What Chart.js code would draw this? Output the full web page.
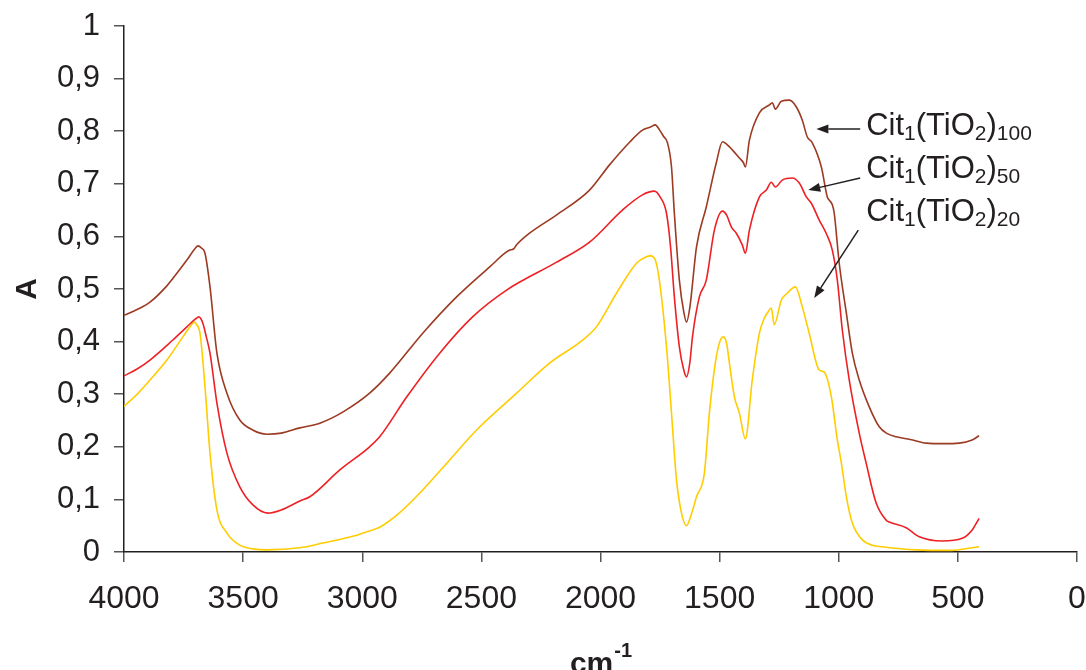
<!DOCTYPE html>
<html>
<head>
<meta charset="utf-8">
<script src="https://cdn.jsdelivr.net/npm/chart.js@4/dist/chart.umd.min.js"></script>
<style>
html,body{margin:0;padding:0;background:#fff;}
#wrap{width:1086px;height:670px;}
</style>
</head>
<body>
<div id="wrap"><canvas id="c" width="1086" height="670"></canvas></div>
<script>
// ---- Data (wavenumber cm-1, absorbance A) ----
const brownX = [4000,3945,3891,3820,3795,3736,3700,3690,3675,3660,3639,3610,3568,3514,3460,3400,3340,3262,3178,3082,2969,2885,2746,2604,2465,2381,2365,2352,2298,2184,2046,1962,1878,1824,1790,1770,1753,1735,1719,1702,1690,1669,1650,1639,1625,1597,1556,1514,1488,1470,1446,1417,1400,1392,1375,1333,1291,1279,1266,1241,1207,1178,1153,1132,1111,1073,1048,1040,1027,1019,998,968,943,914,872,830,800,759,700,633,560,495,440,411];
const brownY = [0.450,0.461,0.475,0.506,0.520,0.555,0.578,0.582,0.578,0.568,0.504,0.378,0.302,0.251,0.232,0.224,0.226,0.236,0.245,0.266,0.302,0.340,0.416,0.485,0.542,0.574,0.576,0.584,0.606,0.641,0.688,0.736,0.779,0.802,0.808,0.812,0.803,0.790,0.778,0.732,0.644,0.517,0.455,0.437,0.465,0.580,0.656,0.740,0.780,0.775,0.764,0.749,0.740,0.732,0.783,0.835,0.850,0.854,0.842,0.857,0.859,0.846,0.821,0.789,0.778,0.732,0.675,0.669,0.660,0.644,0.549,0.454,0.378,0.327,0.276,0.238,0.226,0.219,0.214,0.207,0.206,0.207,0.213,0.221];

const redX = [4000,3945,3891,3795,3736,3700,3686,3669,3655,3639,3610,3568,3514,3460,3396,3340,3262,3220,3094,2969,2927,2813,2675,2537,2394,2184,2046,1908,1824,1774,1750,1723,1706,1690,1669,1650,1639,1625,1614,1585,1556,1522,1488,1470,1451,1430,1405,1392,1375,1333,1304,1283,1266,1237,1195,1165,1136,1115,1082,1052,1027,1006,985,956,914,885,843,800,788,717,662,566,482,440,411];
const redY = [0.335,0.348,0.365,0.403,0.428,0.443,0.447,0.435,0.410,0.378,0.283,0.188,0.124,0.090,0.074,0.080,0.097,0.105,0.156,0.200,0.219,0.295,0.378,0.447,0.498,0.551,0.589,0.650,0.679,0.686,0.675,0.644,0.580,0.485,0.390,0.345,0.333,0.360,0.409,0.485,0.517,0.612,0.648,0.640,0.618,0.606,0.584,0.568,0.612,0.675,0.688,0.703,0.694,0.707,0.711,0.701,0.675,0.663,0.631,0.605,0.574,0.517,0.422,0.327,0.226,0.169,0.093,0.060,0.057,0.046,0.029,0.021,0.026,0.042,0.064];

const yellowX = [4000,3945,3891,3820,3753,3720,3706,3695,3681,3660,3639,3610,3568,3514,3460,3400,3262,3166,3023,2969,2927,2855,2746,2633,2520,2352,2214,2075,2017,1933,1849,1810,1790,1770,1753,1723,1702,1681,1660,1639,1620,1597,1564,1543,1514,1495,1484,1470,1459,1438,1417,1392,1363,1333,1312,1300,1283,1271,1241,1216,1182,1153,1124,1082,1061,1031,1006,989,968,943,901,860,818,675,524,453,411];
const yellowY = [0.277,0.300,0.327,0.365,0.409,0.430,0.437,0.432,0.416,0.314,0.188,0.080,0.036,0.013,0.006,0.004,0.008,0.017,0.032,0.040,0.047,0.070,0.118,0.175,0.232,0.302,0.359,0.403,0.428,0.492,0.549,0.561,0.563,0.555,0.517,0.390,0.264,0.137,0.074,0.050,0.070,0.105,0.150,0.264,0.371,0.405,0.409,0.395,0.359,0.295,0.264,0.215,0.327,0.416,0.445,0.454,0.464,0.432,0.479,0.492,0.504,0.466,0.416,0.346,0.342,0.295,0.213,0.169,0.105,0.055,0.023,0.013,0.010,0.004,0.003,0.007,0.010];

const seriesSubs = ['100','50','20'];
const xTickValues = [4000,3500,3000,2500,2000,1500,1000,500,0];
const yTickLabels = ['0','0,1','0,2','0,3','0,4','0,5','0,6','0,7','0,8','0,9','1'];

// annotation anchors (data coordinates)
const labelX = [885,885,885];
const labelY = [0.793,0.711,0.629];
const arrowTailX = [910,910,918];
const arrowTailY = [0.804,0.711,0.612];
const arrowTipX = [1094,1128,1103];
const arrowTipY = [0.804,0.688,0.483];

const FONT = "'Liberation Sans', Arial, sans-serif";
const colors = ['#9c3a22','#ee2024','#ffcc00'];

function pts(xs, ys){ return xs.map((x,i)=>({x:x, y:ys[i]})); }

const annotPlugin = {
  id:'annot',
  afterDraw(chart){
    const ctx = chart.ctx, xs = chart.scales.x, ys = chart.scales.y;
    ctx.save();
    ctx.strokeStyle = '#231f20';
    ctx.fillStyle = '#231f20';
    ctx.lineWidth = 1.5;
    for (let i=0;i<3;i++){
      const x0 = xs.getPixelForValue(arrowTailX[i]), y0 = ys.getPixelForValue(arrowTailY[i]);
      const x1 = xs.getPixelForValue(arrowTipX[i]), y1 = ys.getPixelForValue(arrowTipY[i]);
      const ang = Math.atan2(y1-y0, x1-x0);
      const L = 12, W = 4.5;
      const bx = x1 - L*Math.cos(ang), by = y1 - L*Math.sin(ang);
      ctx.beginPath(); ctx.moveTo(x0,y0); ctx.lineTo(bx,by); ctx.stroke();
      ctx.beginPath();
      ctx.moveTo(x1,y1);
      ctx.lineTo(bx + W*Math.sin(ang), by - W*Math.cos(ang));
      ctx.lineTo(bx - W*Math.sin(ang), by + W*Math.cos(ang));
      ctx.closePath(); ctx.fill();
    }
    ctx.textBaseline = 'alphabetic';
    ctx.textAlign = 'left';
    for (let i=0;i<3;i++){
      let cx = xs.getPixelForValue(labelX[i]);
      const cy = ys.getPixelForValue(labelY[i]);
      const segs = [['Cit',0],['1',1],['(TiO',0],['2',1],[')',0],[seriesSubs[i],1]];
      for (const [t,sub] of segs){
        ctx.font = sub ? `21px ${FONT}` : `31px ${FONT}`;
        ctx.fillText(t, cx, cy + (sub ? 5 : 0));
        cx += ctx.measureText(t).width;
      }
    }
    // x axis title: cm^-1
    const area = chart.chartArea;
    const mid = (area.left + area.right)/2;
    ctx.font = `bold 30px ${FONT}`;
    const w1 = ctx.measureText('cm').width;
    ctx.font = `bold 20px ${FONT}`;
    const w2 = ctx.measureText('-1').width;
    let sx = mid - (w1 + w2)/2;
    ctx.font = `bold 30px ${FONT}`;
    ctx.fillText('cm', sx, 673);
    ctx.font = `bold 20px ${FONT}`;
    ctx.fillText('-1', sx + w1 + 1, 657);
    ctx.restore();
  }
};

new Chart(document.getElementById('c'), {
  type:'line',
  data:{
    datasets:[
      {label:'Cit1(TiO2)100', data:pts(brownX,brownY), borderColor:colors[0], borderWidth:1.6},
      {label:'Cit1(TiO2)50', data:pts(redX,redY), borderColor:colors[1], borderWidth:1.6},
      {label:'Cit1(TiO2)20', data:pts(yellowX,yellowY), borderColor:colors[2], borderWidth:1.6}
    ]
  },
  options:{
    responsive:false,
    animation:false,
    layout:{padding:{top:26,right:9,left:0,bottom:0}},
    elements:{point:{radius:0}, line:{cubicInterpolationMode:'monotone', fill:false}},
    plugins:{legend:{display:false}, tooltip:{enabled:false}},
    scales:{
      x:{
        type:'linear', reverse:true, min:0, max:4000,
        afterFit(s){ s.height = 118; s.paddingLeft = 0; s.paddingRight = 0; },
        afterBuildTicks(s){ s.ticks = xTickValues.map(v=>({value:v})); },
        ticks:{color:'#231f20', font:{family:FONT, size:32}, padding:18, maxRotation:0, autoSkip:false, callback:v=>String(v)},
        grid:{drawOnChartArea:false, drawTicks:true, tickLength:10, color:'#555', lineWidth:1.5},
        border:{display:true, color:'#231f20', width:1.5}
      },
      y:{
        type:'linear', min:0, max:1,
        afterFit(s){ s.width = 124; s.paddingTop = 0; s.paddingBottom = 0; },
        ticks:{stepSize:0.1, color:'#231f20', font:{family:FONT, size:31}, padding:14, callback:(v,i)=>yTickLabels[i]},
        grid:{drawOnChartArea:false, drawTicks:true, tickLength:10, color:'#555', lineWidth:1.5},
        border:{display:true, color:'#231f20', width:1.5},
        title:{display:true, text:'A', color:'#231f20', font:{family:FONT, size:30, weight:'bold'}, padding:{top:10,bottom:0}}
      }
    }
  },
  plugins:[annotPlugin]
});
</script>
</body>
</html>
